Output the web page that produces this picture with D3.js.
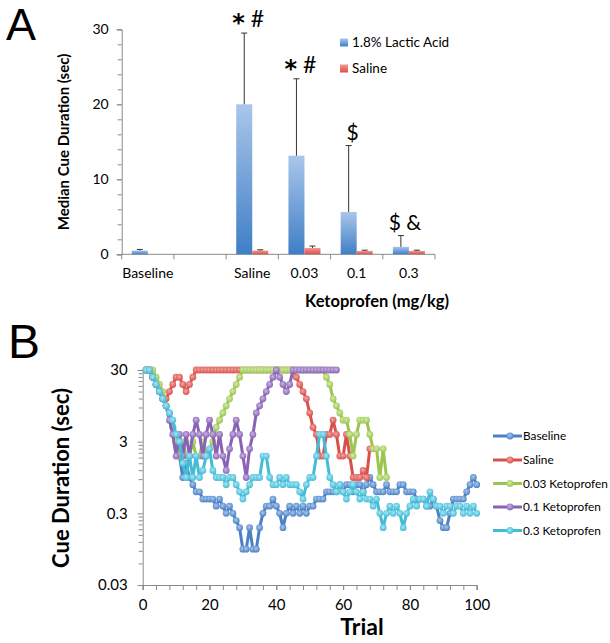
<!DOCTYPE html>
<html>
<head>
<meta charset="utf-8">
<script src="https://cdn.jsdelivr.net/npm/d3@7"></script>
<style>
  html, body { margin: 0; padding: 0; background: #fff; }
  svg { display: block; }
  text { font-family: Lato, "Open Sans", sans-serif; fill: #000; }
</style>
</head>
<body>
<svg id="chart" width="610" height="643"></svg>
<script>
// ---------------- Panel A data ----------------
const categoriesA = ["Baseline", " ", "Saline", "0.03", "0.1", "0.3"];
const seriesNamesA = ["1.8% Lactic Acid", "Saline"];
const lacticMedian = [0.5, null, 20.0, 13.15, 5.65, 1.0];
const lacticErrTop = [0.65, null, 29.5, 23.4, 14.5, 2.5];
const salineMedian = [null, null, 0.5, 0.85, 0.45, 0.45];
const salineErrTop = [null, null, 0.6, 1.1, 0.55, 0.55];
const annotationStarA = ["", "", "*", "*", "", ""];
const annotationRestA = ["", "", "#", "#", "$", "$ &"];
const yTicksA = [0, 10, 20, 30];

// ---------------- Panel B data ----------------
const trialTicksB = [0, 20, 40, 60, 80, 100];
const yTicksB = [30, 3, 0.3, 0.03];
const yTickLabelsB = ["30", "3", "0.3", "0.03"];
const yMinorTicksB = [0.06, 0.09, 0.12, 0.15, 0.18, 0.21, 0.24, 0.27,
                      0.6, 0.9, 1.2, 1.5, 1.8, 2.1, 2.4, 2.7,
                      6, 9, 12, 15, 18, 21, 24, 27];
const seriesNamesB = ["Baseline", "Saline", "0.03 Ketoprofen", "0.1 Ketoprofen", "0.3 Ketoprofen"];

const baselineB = [
  30,30,23.8,18.9,15,11.9,9.49,7.54,4.75,3,
  1.89,0.949,1.5,0.949,0.754,0.599,0.599,0.475,0.475,0.475,
  0.475,0.378,0.475,0.378,0.3,0.378,0.3,0.238,0.189,0.0949,
  0.0949,0.189,0.0949,0.0949,0.189,0.3,0.378,0.378,0.475,0.378,
  0.3,0.189,0.3,0.378,0.3,0.378,0.3,0.378,0.3,0.378,
  0.378,0.475,0.475,0.475,0.599,0.599,0.599,0.599,0.754,0.599,
  0.754,0.754,0.599,0.754,0.754,0.599,0.754,0.949,0.754,0.599,
  0.599,0.599,0.754,0.599,0.599,0.599,0.754,0.754,0.599,0.599,
  0.599,0.475,0.475,0.475,0.378,0.378,0.475,0.378,0.238,0.189,
  0.189,0.3,0.475,0.475,0.475,0.475,0.599,0.754,0.949,0.754
];
const salineB = [
  30,30,23.8,18.9,15,11.9,11.9,15,18.9,23.8,
  23.8,18.9,15,18.9,23.8,30,30,30,30,30,
  30,30,30,30,30,30,30,30,30,30,
  30,30,30,30,30,30,30,30,30,30,
  30,30,30,30,30,23.8,18.9,15,11.9,7.54,
  4.75,3.78,1.89,1.89,3.78,3.78,5.99,3.78,1.89,1.89,
  3.78,1.89,0.949,0.949,0.949,1.19,0.949,2.38
];
const keto003B = [
  30,30,30,23.8,18.9,15,9.49,7.54,4.75,3,
  1.89,3,1.89,1.89,3,1.89,1.89,3,1.89,2.38,
  3,4.75,5.99,7.54,9.49,11.9,15,18.9,23.8,30,
  30,30,30,30,30,30,30,30,30,30,
  30,30,30,30,30,30,30,30,30,30,
  30,30,30,30,23.8,18.9,11.9,9.49,7.54,5.99,
  5.99,3.78,1.89,3.78,5.99,5.99,5.99,3.78,2.38,2.38,
  0.949,2.38,0.949
];
const keto01B = [
  30,30,23.8,18.9,15,11.9,9.49,5.99,3.78,1.89,
  3.78,1.89,3.78,1.89,3.78,5.99,3.78,1.89,3.78,5.99,
  3.78,1.89,3.78,1.89,1.19,2.38,3.78,5.99,3.78,1.89,
  0.949,2.38,3.78,7.54,9.49,11.9,15,18.9,23.8,30,
  23.8,18.9,15,18.9,30,30,30,30,30,30,
  30,30,30,30,30,30,30,30
];
const keto03B = [
  30,30,23.8,18.9,15,11.9,9.49,7.54,5.99,3.78,
  3,1.5,0.949,1.89,0.949,1.89,0.949,1.19,1.89,2.38,
  1.19,0.949,0.949,0.949,0.754,0.949,0.949,0.754,0.599,0.475,
  0.599,0.754,0.949,0.949,0.949,1.89,1.89,0.949,0.754,0.754,
  0.949,0.754,0.949,0.754,0.754,0.754,0.599,0.475,0.754,0.949,
  0.949,1.89,3.78,3.78,1.89,0.949,0.754,0.599,0.754,0.599,
  0.475,0.599,0.754,0.599,0.475,0.599,0.475,0.475,0.378,0.475,
  0.3,0.189,0.3,0.378,0.3,0.378,0.3,0.189,0.3,0.378,
  0.475,0.378,0.475,0.475,0.378,0.599,0.475,0.378,0.378,0.3,
  0.378,0.378,0.3,0.378,0.378,0.3,0.378,0.3,0.378,0.3
];
const seriesB = [baselineB, salineB, keto003B, keto01B, keto03B];
const colorsB = ["#4a80c4", "#d8504c", "#9cc550", "#8862b4", "#44bcd8"];
const lightB  = ["#a9c8ef", "#f5a6a3", "#d4ecaa", "#c9b5e3", "#a7e6f3"];

// ---------------- drawing ----------------
const svg = d3.select("#chart");
svg.append("rect").attr("width", 610).attr("height", 643).attr("fill", "#fff");
const defs = svg.append("defs");

function vGrad(id, top, bottom) {
  const g = defs.append("linearGradient").attr("id", id)
    .attr("x1", 0).attr("y1", 0).attr("x2", 0).attr("y2", 1);
  g.append("stop").attr("offset", "0%").attr("stop-color", top);
  g.append("stop").attr("offset", "100%").attr("stop-color", bottom);
}
vGrad("gBlue", "#aac6ea", "#3f7fc6");
vGrad("gRed", "#f29893", "#d9504b");
colorsB.forEach((c, i) => {
  const g = defs.append("radialGradient").attr("id", "dot" + i)
    .attr("cx", "45%").attr("cy", "40%").attr("r", "60%");
  g.append("stop").attr("offset", "0%").attr("stop-color", lightB[i]);
  g.append("stop").attr("offset", "100%").attr("stop-color", c);
});

const axisColor = "#8a8a8a";

// Panel labels
svg.append("text").attr("x", 6).attr("y", 40).attr("font-size", 45)
  .style("font-family", "'Liberation Sans', Arial, sans-serif").text("A");
svg.append("text").attr("x", 8).attr("y", 358).attr("font-size", 48)
  .style("font-family", "'Liberation Sans', Arial, sans-serif").text("B");

// ===== Panel A =====
const xA = d3.scaleBand().domain(categoriesA).range([121.7, 435]).padding(0);
const xSub = d3.scaleBand().domain(seriesNamesA).range([0, xA.bandwidth()]).paddingInner(0).paddingOuter(0.63);
const yA = d3.scaleLinear().domain([0, 30]).range([254.3, 29.3]);

const gA = svg.append("g");
// y axis
const yAxisA = d3.axisLeft(yA).tickValues(yTicksA).tickSize(5).tickPadding(8);
const gyA = gA.append("g").attr("transform", "translate(121.7,0)").call(yAxisA);
gA.append("g").attr("transform", "translate(121.7,0)")
  .call(d3.axisLeft(yA).tickValues(d3.range(0, 31, 2)).tickSize(4).tickFormat(""))
  .call(g => g.select(".domain").remove());
gyA.selectAll("text").attr("font-size", 14).style("font-family", "Lato, sans-serif").attr("fill", "#000");
// x axis
const gxA = gA.append("g").attr("transform", "translate(0,254.3)");
gxA.append("line").attr("x1", 121.7).attr("x2", 435).attr("stroke", axisColor);
const boundaries = categoriesA.map(c => xA(c)).concat([xA(categoriesA[categoriesA.length - 1]) + xA.bandwidth()]);
gxA.selectAll("line.tk").data(boundaries).enter().append("line").attr("class", "tk")
  .attr("x1", d => d).attr("x2", d => d).attr("y1", 0).attr("y2", 5).attr("stroke", axisColor);
gxA.selectAll("text").data(categoriesA).enter().append("text")
  .attr("x", d => xA(d) + xA.bandwidth() / 2).attr("y", 24)
  .attr("text-anchor", "middle").attr("font-size", 14).text(d => d.trim());
gA.selectAll(".domain, .tick line").attr("stroke", axisColor);

// bars
categoriesA.forEach((c, i) => {
  const x0 = xA(c);
  [[lacticMedian, lacticErrTop, "url(#gBlue)", seriesNamesA[0]],
   [salineMedian, salineErrTop, "url(#gRed)", seriesNamesA[1]]].forEach(([vals, errs, fill, s]) => {
    const v = vals[i];
    if (v == null) return;
    const bx = x0 + xSub(s);
    gA.append("rect").attr("x", bx).attr("y", yA(v)).attr("width", xSub.bandwidth())
      .attr("height", yA(0) - yA(v)).attr("fill", fill);
    const cx = bx + xSub.bandwidth() / 2;
    gA.append("line").attr("x1", cx).attr("x2", cx).attr("y1", yA(v)).attr("y2", yA(errs[i]))
      .attr("stroke", "#333").attr("stroke-width", 1);
    gA.append("line").attr("x1", cx - 3).attr("x2", cx + 3).attr("y1", yA(errs[i])).attr("y2", yA(errs[i]))
      .attr("stroke", "#333").attr("stroke-width", 1);
  });
  if (annotationRestA[i]) {
    const cx = x0 + xSub(seriesNamesA[0]) + xSub.bandwidth() / 2 + 4;
    const t = gA.append("text").attr("x", cx).attr("y", yA(lacticErrTop[i]) - 6)
      .attr("text-anchor", "middle").attr("font-size", i >= 4 ? 21 : 23);
    if (annotationStarA[i]) {
      t.append("tspan").attr("font-weight", "bold").attr("font-size", 24).attr("dy", 4)
        .style("font-family", "'DejaVu Sans', sans-serif").text(annotationStarA[i]);
      t.append("tspan").attr("dy", -4).text(" " + annotationRestA[i]);
    } else {
      t.text(annotationRestA[i]);
    }
  }
});
// axis titles
gA.append("text").attr("transform", "translate(69,142) rotate(-90)")
  .attr("text-anchor", "middle").attr("font-size", 15).attr("font-weight", "bold")
  .text("Median Cue Duration (sec)");
gA.append("text").attr("x", 377).attr("y", 307).attr("text-anchor", "middle")
  .attr("font-size", 16.5).attr("font-weight", "bold").text("Ketoprofen (mg/kg)");
// legend A
[["url(#gBlue)", 42.5], ["url(#gRed)", 68.5]].forEach(([f, y], i) => {
  gA.append("rect").attr("x", 340).attr("y", y - 4).attr("width", 8).attr("height", 8).attr("fill", f);
  gA.append("text").attr("x", 352).attr("y", y).attr("dy", "0.35em").attr("font-size", 13.5).text(seriesNamesA[i]);
});

// ===== Panel B =====
const xB = d3.scaleLinear().domain([0, 100]).range([142.7, 476.7]);
const yB = d3.scaleLog().domain([0.03, 30]).range([585, 370]);
const gB = svg.append("g");

const gyB = gB.append("g").attr("transform", "translate(142.7,0)")
  .call(d3.axisLeft(yB).tickValues(yTicksB).tickSize(5).tickPadding(10).tickFormat((d, i) => yTickLabelsB[i]));
gyB.selectAll("text").attr("font-size", 15).style("font-family", "Lato, sans-serif").attr("fill", "#000");
gB.append("g").attr("transform", "translate(142.7,0)")
  .call(d3.axisLeft(yB).tickValues(yMinorTicksB).tickSize(4).tickFormat(""))
  .call(g => g.select(".domain").remove());
const gxB = gB.append("g").attr("transform", "translate(0,585)")
  .call(d3.axisBottom(xB).tickValues(trialTicksB).tickSize(5).tickPadding(9).tickFormat(d3.format("d")));
gxB.selectAll("text").attr("font-size", 15).style("font-family", "Lato, sans-serif").attr("fill", "#000");
gB.append("g").attr("transform", "translate(0,585)")
  .call(d3.axisBottom(xB).tickValues(d3.range(0, 101, 4)).tickSize(5).tickFormat(""))
  .call(g => g.select(".domain").remove());
gB.selectAll(".domain, .tick line").attr("stroke", axisColor);

// series
const lineB = d3.line().x(d => xB(d.t)).y(d => yB(d.v));
seriesB.forEach((arr, i) => {
  const pts = arr.map((v, j) => ({ t: j + 1, v }));
  const g = gB.append("g");
  g.append("path").datum(pts).attr("d", lineB).attr("fill", "none")
    .attr("stroke", colorsB[i]).attr("stroke-width", 3).attr("stroke-linejoin", "round");
  g.selectAll("circle").data(pts).enter().append("circle")
    .attr("cx", d => xB(d.t)).attr("cy", d => yB(d.v)).attr("r", 3.4)
    .attr("fill", `url(#dot${i})`);
});

// legend B
const legY = [436, 460, 483.5, 507, 530.5];
seriesNamesB.forEach((n, i) => {
  gB.append("line").attr("x1", 493).attr("x2", 522).attr("y1", legY[i]).attr("y2", legY[i])
    .attr("stroke", colorsB[i]).attr("stroke-width", 3);
  gB.append("circle").attr("cx", 510).attr("cy", legY[i]).attr("r", 3.4).attr("fill", `url(#dot${i})`);
  gB.append("text").attr("x", 523).attr("y", legY[i]).attr("dy", "0.35em").attr("font-size", 11.8).text(n);
});

// axis titles B
gB.append("text").attr("transform", "translate(69,478) rotate(-90)")
  .attr("text-anchor", "middle").attr("font-size", 22).attr("font-weight", "bold")
  .text("Cue Duration (sec)");
gB.append("text").attr("x", 362).attr("y", 635).attr("text-anchor", "middle")
  .attr("font-size", 23).attr("font-weight", "bold").text("Trial");
</script>
</body>
</html>
